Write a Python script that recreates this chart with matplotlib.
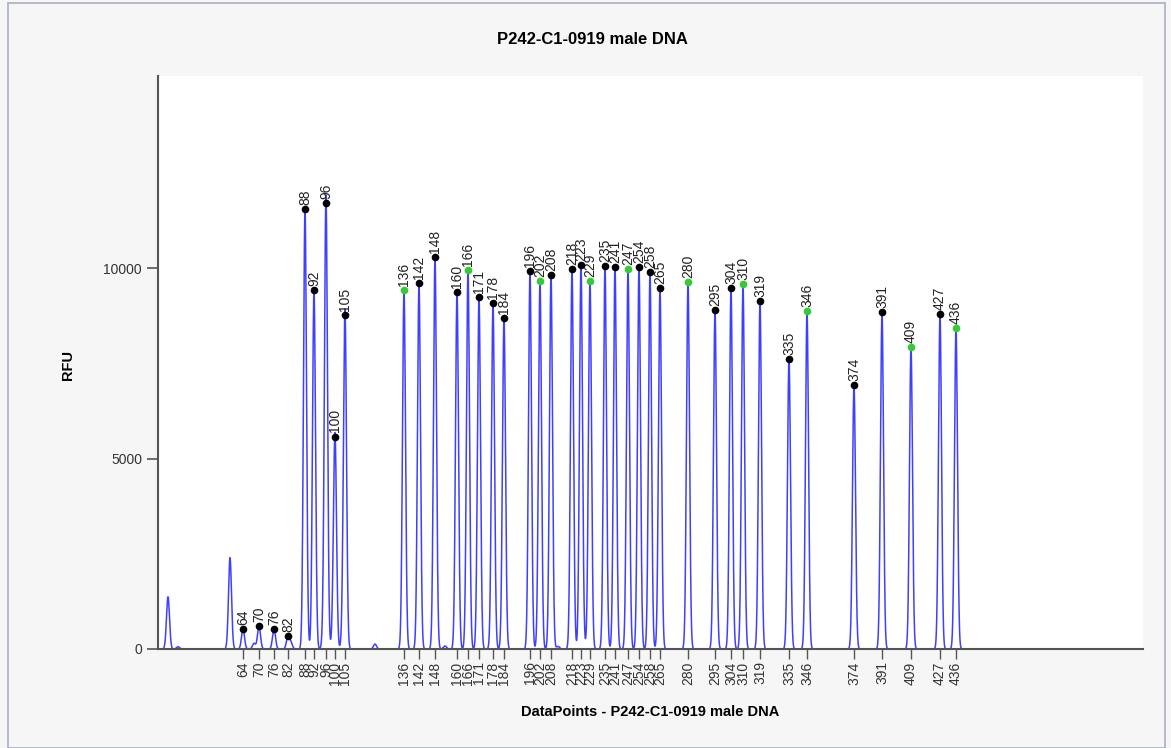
import numpy as np
import matplotlib
matplotlib.use("Agg")
import matplotlib.pyplot as plt
from matplotlib.patches import Rectangle

plt.rcParams['font.family'] = ['Liberation Sans', 'DejaVu Sans']

# sized peaks: fragment size (bp), scan position (data points), RFU, marker colour
sizes = [64, 70, 76, 82, 88, 92, 96, 100, 105,
         136, 142, 148, 160, 166, 171, 178, 184,
         196, 202, 208, 218, 223, 229, 235, 241, 247, 254, 258, 265,
         280, 295, 304, 310, 319, 335, 346, 374, 391, 409, 427, 436]
positions = [85, 101, 116, 130, 147, 156, 168, 177, 187,
             246, 261, 277, 299, 310, 321, 335, 346,
             372, 382, 393, 414, 423, 432, 447, 457, 470, 481, 492, 502,
             530, 557, 573, 585, 602, 631, 649, 696, 724, 753, 782, 798]
heights = [526, 605, 526, 342, 11553, 9421, 11710, 5579, 8763,
           9421, 9605, 10289, 9368, 9947, 9237, 9079, 8684,
           9921, 9658, 9816, 9974, 10079, 9658, 10053, 10026, 9974, 10026, 9895, 9474,
           9632, 8895, 9474, 9579, 9132, 7605, 8868, 6921, 8842, 7921, 8789, 8421]
marker_green = [136, 166, 202, 229, 247, 280, 310, 346, 409, 436]

# unsized peaks / stutter in the trace
extra_pos = [10, 20, 72, 96, 133, 166, 175, 185, 217, 287, 400, 429]
extra_hgt = [1370, 60, 2400, 150, 150, 526, 263, 420, 130, 80, 70, 90]

title = "P242-C1-0919 male DNA"
x_label = "DataPoints - P242-C1-0919 male DNA"
y_label = "RFU"

fig = plt.figure(figsize=(11.71, 7.48), dpi=100, facecolor='#f6f6f6')
fig.patches.append(Rectangle((8 / 1171, 0), 1157 / 1171, 745 / 748,
                             transform=fig.transFigure, fill=False,
                             edgecolor='#a8b0c4', linewidth=1.2))
ax = fig.add_axes([158 / 1171, 99 / 748, 985 / 1171, 573 / 748])
ax.set_facecolor('white')

# build the electropherogram trace from the peaks
xs = np.arange(0, 985, 0.1)
trace = np.zeros_like(xs)
for p, h in zip(list(positions) + extra_pos, list(heights) + extra_hgt):
    trace += h * np.exp(-0.5 * ((xs - p) / 1.5) ** 2)
ax.plot(xs, trace, color='#2a2aff', linewidth=1.1, alpha=0.9)

for s, p, h in zip(sizes, positions, heights):
    c = '#33cc33' if s in marker_green else 'black'
    ax.plot(p, h, 'o', color=c, markersize=4.5, zorder=5)
    ax.annotate(str(s), (p, h), xytext=(0, 3), textcoords='offset points',
                rotation=90, ha='center', va='bottom', fontsize=10, color='#222222')

ax.set_xlim(0, 985)
ax.set_ylim(0, 15050)
ax.set_yticks([0, 5000, 10000])
ax.set_xticks(positions)
ax.set_xticklabels([str(s) for s in sizes], rotation=90, fontsize=10, color='#333333')
ax.tick_params(axis='y', length=8, width=1.2, color='#555555', labelsize=10,
               labelcolor='#333333')
ax.tick_params(axis='x', length=7, width=1.0, color='#555555', pad=2)
for side in ['top', 'right']:
    ax.spines[side].set_visible(False)
for side in ['left', 'bottom']:
    ax.spines[side].set_color('#555555')
    ax.spines[side].set_linewidth(1.5)

fig.text(592 / 1171, 1 - 40 / 748, title, ha='center', va='center',
         fontsize=12, fontweight='bold')
fig.text(650 / 1171, 1 - 712 / 748, x_label, ha='center', va='center',
         fontsize=10.5, fontweight='bold')
fig.text(68 / 1171, 1 - 365 / 748, y_label, ha='center', va='center',
         rotation=90, fontsize=10.5, fontweight='bold')

fig.savefig('out.png', dpi=100, facecolor=fig.get_facecolor())
